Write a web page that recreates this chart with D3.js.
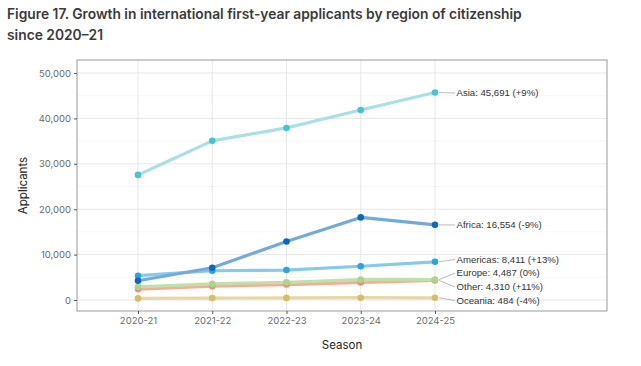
<!DOCTYPE html>
<html><head><meta charset="utf-8">
<script src="https://cdn.jsdelivr.net/npm/d3@7"></script>
<style>body{margin:0;background:#fff;} svg{display:block;}</style>
</head><body>
<svg id="c" width="641" height="366"></svg>
<script>
const seasons = ["2020-21","2021-22","2022-23","2023-24","2024-25"];
const asia     = [27550, 35050, 37900, 41850, 45691];
const africa   = [4250, 7100, 12900, 18190, 16554];
const americas = [5350, 6450, 6600, 7440, 8411];
const europe   = [2900, 3550, 3900, 4480, 4487];
const other    = [2400, 3050, 3400, 3880, 4310];
const oceania  = [350, 420, 460, 504, 484];
const yTicks = [0, 10000, 20000, 30000, 40000, 50000];
const labels = ["Asia: 45,691 (+9%)","Africa: 16,554 (-9%)","Americas: 8,411 (+13%)","Europe: 4,487 (0%)","Other: 4,310 (+11%)","Oceania: 484 (-4%)"];

const series = [
  {name:"Oceania", values:oceania, line:"#e6d7a3", pt:"#d6bd6a", ly:300.5},
  {name:"Other", values:other, line:"#f6ab92", pt:"#f28c70", ly:287},
  {name:"Europe", values:europe, line:"#bfe0aa", pt:"#a9d58e", ly:273},
  {name:"Americas", values:americas, line:"#85c9ec", pt:"#2fa3dc", ly:259.5},
  {name:"Africa", values:africa, line:"#74aadb", pt:"#0d68bd", ly:225},
  {name:"Asia", values:asia, line:"#a8e0e4", pt:"#4cc2cf", ly:93}
];
const labelOf = {Asia:labels[0],Africa:labels[1],Americas:labels[2],Europe:labels[3],Other:labels[4],Oceania:labels[5]};

const svg = d3.select("#c");
const L=77, R=607, T=60, B=311;
const x = d3.scalePoint().domain(seasons).range([138, 435]);
const y = d3.scaleLinear().domain([-2420, 52860]).range([B, T]);

// title
const title = svg.append("g").attr("font-family","Inter, 'Open Sans', sans-serif").attr("font-weight",600).attr("font-size",13.8).attr("fill","#3a3a3a");
title.append("text").attr("x",7).attr("y",19).text("Figure 17. Growth in international first-year applicants by region of citizenship");
title.append("text").attr("x",7).attr("y",40).text("since 2020–21");

// grid
const g = svg.append("g");
const minor = d3.range(5000, 52000, 10000);
g.selectAll(".mi").data(minor).join("line").attr("x1",L).attr("x2",R).attr("y1",d=>y(d)).attr("y2",d=>y(d)).attr("stroke","#f0f0f0").attr("stroke-width",0.6);
g.selectAll(".ma").data(yTicks).join("line").attr("x1",L).attr("x2",R).attr("y1",d=>y(d)).attr("y2",d=>y(d)).attr("stroke","#e4e4e4").attr("stroke-width",0.9);
g.selectAll(".vx").data(seasons).join("line").attr("x1",d=>x(d)).attr("x2",d=>x(d)).attr("y1",T).attr("y2",B).attr("stroke","#e4e4e4").attr("stroke-width",0.9);

// panel border
svg.append("rect").attr("x",L).attr("y",T).attr("width",R-L).attr("height",B-T).attr("fill","none").attr("stroke","#9a9a9a").attr("stroke-width",1);

// axes
const yAxis = d3.axisLeft(y).tickValues(yTicks).tickFormat(d3.format(",")).tickSize(3).tickPadding(3);
const ya = svg.append("g").attr("transform",`translate(${L},0)`).call(yAxis);
ya.select(".domain").remove();
ya.selectAll(".tick line").attr("stroke","#555");
ya.selectAll("text").attr("font-family","Inter, 'Open Sans', sans-serif").attr("font-size",9.5).attr("fill","#6a6a6a");
const xAxis = d3.axisBottom(x).tickSize(3).tickPadding(3);
const xa = svg.append("g").attr("transform",`translate(0,${B})`).call(xAxis);
xa.select(".domain").remove();
xa.selectAll(".tick line").attr("stroke","#555");
xa.selectAll("text").attr("font-family","Inter, 'Open Sans', sans-serif").attr("font-size",9.5).attr("fill","#6a6a6a");

svg.append("text").attr("transform","translate(27,185.5) rotate(-90)").attr("text-anchor","middle").attr("font-family","Inter, 'Open Sans', sans-serif").attr("font-size",11.5).attr("fill","#222").text("Applicants");
svg.append("text").attr("x",342).attr("y",349).attr("text-anchor","middle").attr("font-family","Inter, 'Open Sans', sans-serif").attr("font-size",11.5).attr("fill","#222").text("Season");

// lines
const line = d3.line().x((d,i)=>x(seasons[i])).y(d=>y(d));
const lastX = x(seasons[seasons.length-1]);
series.forEach(s=>{
  svg.append("path").attr("d",line(s.values)).attr("fill","none").attr("stroke",s.line).attr("stroke-width",3.2).attr("stroke-linejoin","round").attr("stroke-linecap","round");
});
series.forEach(s=>{
  svg.selectAll(null).data(s.values).join("circle").attr("cx",(d,i)=>x(seasons[i])).attr("cy",d=>y(d)).attr("r",3.3).attr("fill",s.pt);
});
// labels
series.forEach(s=>{
  const vy = y(s.values[s.values.length-1]);
  svg.append("line").attr("x1",lastX+4).attr("y1",vy).attr("x2",455).attr("y2",s.ly).attr("stroke","#aaa").attr("stroke-width",0.8);
  svg.append("text").attr("x",456.5).attr("y",s.ly).attr("dy","0.35em").attr("font-family","'Liberation Sans', Arial, sans-serif").attr("font-size",9.6).attr("fill","#333").text(labelOf[s.name]);
});
</script>
</body></html>
